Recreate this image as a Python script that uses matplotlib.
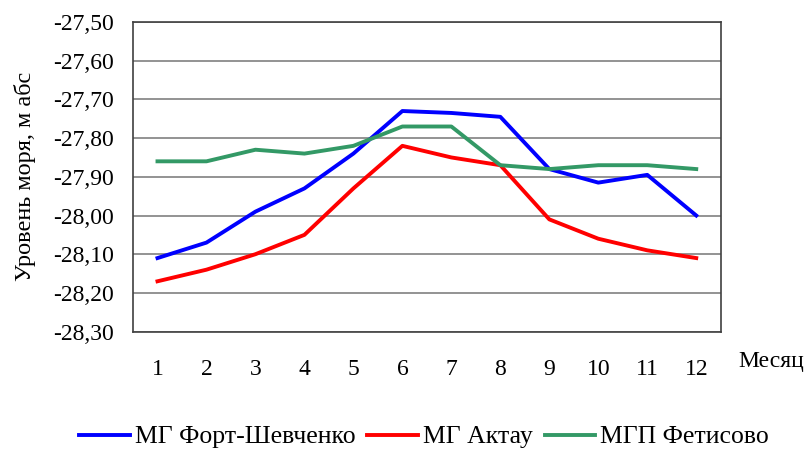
import matplotlib.pyplot as plt
from matplotlib.ticker import FuncFormatter
import numpy as np

plt.rcParams['font.family'] = ['Liberation Serif', 'DejaVu Serif']

months = [1, 2, 3, 4, 5, 6, 7, 8, 9, 10, 11, 12]
fort_shevchenko = [-28.11, -28.07, -27.99, -27.93, -27.84, -27.73, -27.735, -27.745, -27.88, -27.915, -27.895, -28.00]
aktau = [-28.17, -28.14, -28.10, -28.05, -27.93, -27.82, -27.85, -27.87, -28.01, -28.06, -28.09, -28.11]
fetisovo = [-27.86, -27.86, -27.83, -27.84, -27.82, -27.77, -27.77, -27.87, -27.88, -27.87, -27.87, -27.88]

fig = plt.figure(figsize=(8.11, 4.53), dpi=100)
ax = fig.add_axes([0.164, 0.268, 0.7247, 0.6834])

x = np.arange(len(months))
ax.plot(x, fort_shevchenko, color='#0000ff', lw=2.8, label='МГ Форт-Шевченко')
ax.plot(x, aktau, color='#ff0000', lw=2.8, label='МГ Актау')
ax.plot(x, fetisovo, color='#339966', lw=2.8, label='МГП Фетисово')

ax.set_xlim(-0.5, len(months) - 0.5)
ax.set_ylim(-28.30, -27.50)
ax.set_yticks(np.arange(-28.30, -27.49, 0.10))
ax.yaxis.set_major_formatter(FuncFormatter(lambda v, p: f'{v:.2f}'.replace('.', ',')))
ax.set_xticks(x)
ax.set_xticklabels([str(m) for m in months])
ax.tick_params(axis='both', length=0, labelsize=17)
ax.tick_params(axis='x', pad=20)
ax.tick_params(axis='y', pad=14)
ax.yaxis.grid(True, color='#808080', lw=1.2)
ax.set_axisbelow(True)
for s in ax.spines.values():
    s.set_color('#404040')
    s.set_linewidth(1.2)

ax.set_ylabel('Уровень моря, м абс', fontsize=17.5, labelpad=12)
fig.text(738 / 811, 1 - 361 / 453, 'Месяц', fontsize=17, ha='left', va='center')

fig.legend(loc='center', bbox_to_anchor=(424 / 811, 1 - 437 / 453), ncol=3, frameon=False,
           fontsize=18.5, handlelength=1.95, handletextpad=0.2, columnspacing=0.47)

fig.savefig('out.png', dpi=100)
